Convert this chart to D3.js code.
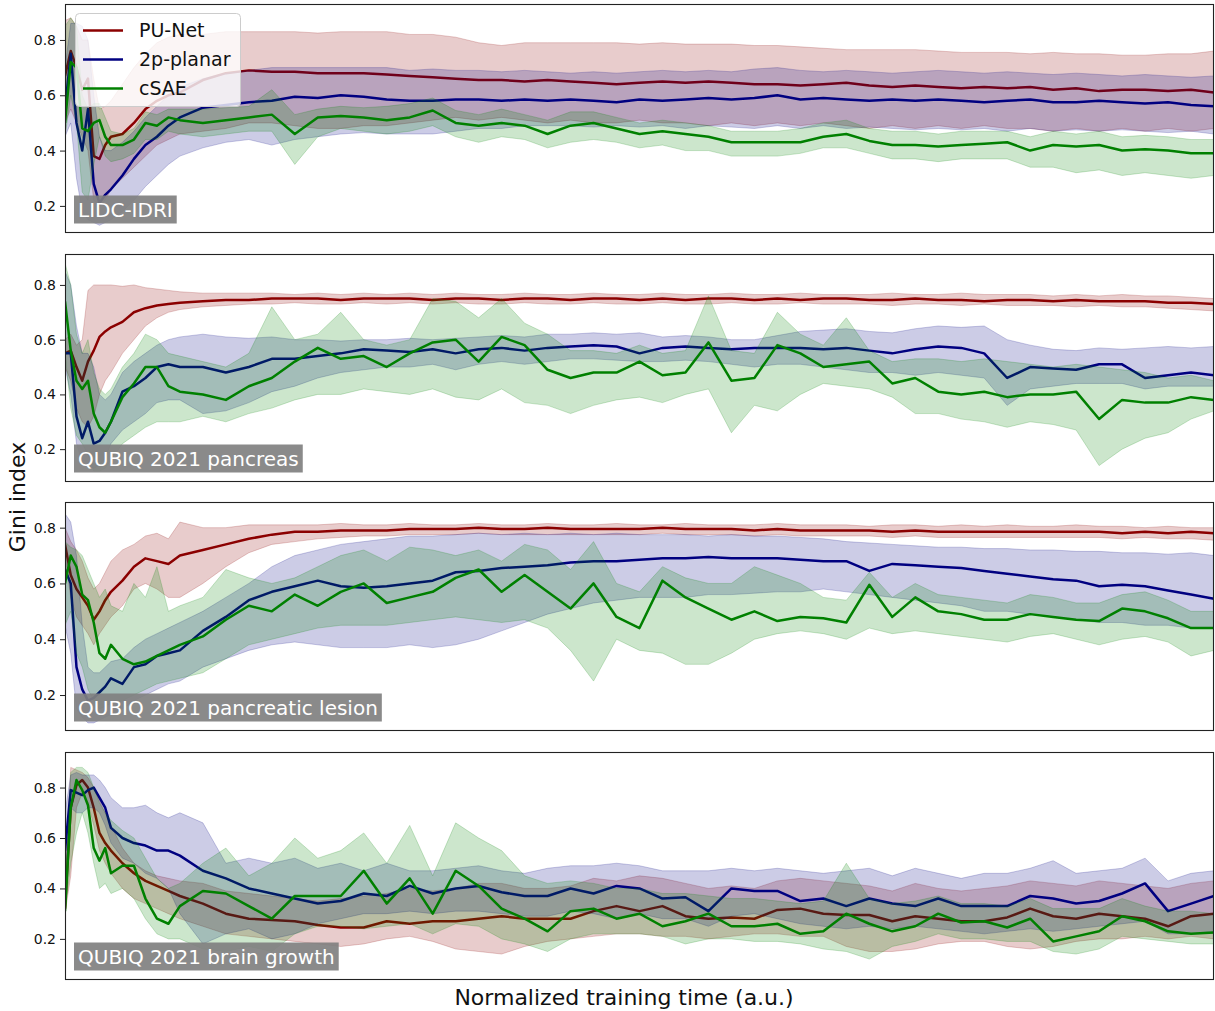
<!DOCTYPE html>
<html>
<head>
<meta charset="utf-8">
<script src="https://cdn.jsdelivr.net/npm/d3@7"></script>
<style>
  body { margin: 0; background: #fff; }
  text { font-family: "DejaVu Sans", sans-serif; }
</style>
</head>
<body>
<script>
// normalized training time (a.u.), shared by every curve
var TIME = [0,0.5,1,1.5,2,2.5,3,3.5,4,5,6,7,8,9,10,12,14,16,18,20,22,24,26,28,30,32,34,36,38,40,
            42,44,46,48,50,52,54,56,58,60,62,64,66,68,70,72,74,76,78,80,82,84,86,88,90,92,94,96,98,100];

var METHODS = ["PU-Net", "2p-planar", "cSAE"];
var DATASETS = ["LIDC-IDRI", "QUBIQ 2021 pancreas", "QUBIQ 2021 pancreatic lesion", "QUBIQ 2021 brain growth"];
var Y_TICKS = [0.2, 0.4, 0.6, 0.8];
var Y_LIMITS = [[0.102, 0.930], [0.080, 0.913], [0.071, 0.892], [0.037, 0.941]];

// ---- LIDC-IDRI
var lidcPuMean = [0.67,0.76,0.70,0.62,0.66,0.38,0.37,0.42,0.45,0.46, 0.50,0.55,0.58,0.60,0.61,0.655,0.68,0.69,0.685,0.685,
  0.68,0.68,0.68,0.675,0.67,0.665,0.66,0.655,0.655,0.65, 0.655,0.65,0.645,0.64,0.645,0.65,0.645,0.65,0.645,0.64,
  0.64,0.635,0.64,0.645,0.635,0.63,0.635,0.63,0.625,0.63, 0.625,0.63,0.62,0.625,0.615,0.62,0.62,0.615,0.62,0.61];
var lidcPuHigh = [0.87,0.88,0.85,0.80,0.80,0.66,0.55,0.56,0.58,0.64, 0.70,0.75,0.79,0.81,0.82,0.82,0.83,0.83,0.83,0.83,
  0.825,0.83,0.83,0.83,0.82,0.82,0.81,0.79,0.78,0.79, 0.79,0.79,0.79,0.79,0.785,0.79,0.785,0.785,0.785,0.78,
  0.78,0.775,0.77,0.765,0.765,0.765,0.765,0.76,0.755,0.755, 0.755,0.75,0.755,0.75,0.75,0.745,0.745,0.75,0.75,0.76];
var lidcPuLow = [0.50,0.55,0.50,0.45,0.40,0.22,0.20,0.22,0.26,0.30, 0.34,0.38,0.42,0.44,0.46,0.47,0.48,0.50,0.50,0.49,
  0.48,0.48,0.49,0.49,0.50,0.51,0.52,0.51,0.52,0.51, 0.50,0.51,0.50,0.50,0.51,0.50,0.50,0.49,0.50,0.49,
  0.50,0.49,0.50,0.49,0.48,0.49,0.48,0.49,0.48,0.49, 0.48,0.48,0.47,0.48,0.47,0.48,0.47,0.48,0.47,0.48];
var lidcPlanarMean = [0.55,0.75,0.50,0.40,0.55,0.28,0.21,0.24,0.26,0.31, 0.37,0.42,0.45,0.49,0.52,0.555,0.565,0.575,0.58,0.595,
  0.59,0.60,0.595,0.585,0.58,0.58,0.585,0.585,0.58,0.585, 0.58,0.585,0.58,0.575,0.585,0.58,0.585,0.59,0.585,0.59,
  0.60,0.585,0.59,0.585,0.58,0.585,0.58,0.585,0.58,0.575, 0.58,0.585,0.575,0.575,0.58,0.575,0.57,0.575,0.565,0.56];
var lidcPlanarHigh = [0.70,0.86,0.86,0.85,0.80,0.60,0.45,0.40,0.40,0.43, 0.47,0.52,0.56,0.60,0.63,0.66,0.68,0.69,0.70,0.70,
  0.70,0.70,0.70,0.70,0.69,0.695,0.69,0.69,0.685,0.69, 0.685,0.68,0.685,0.68,0.685,0.69,0.685,0.69,0.685,0.695,
  0.70,0.69,0.685,0.69,0.685,0.68,0.685,0.69,0.685,0.68, 0.685,0.68,0.675,0.68,0.675,0.67,0.675,0.67,0.665,0.67];
var lidcPlanarLow = [0.45,0.50,0.30,0.18,0.15,0.14,0.13,0.14,0.15,0.18, 0.22,0.27,0.31,0.35,0.38,0.41,0.43,0.44,0.42,0.44,
  0.45,0.46,0.465,0.46,0.46,0.46,0.47,0.48,0.48,0.49, 0.49,0.49,0.485,0.49,0.485,0.49,0.48,0.49,0.485,0.48,
  0.49,0.48,0.49,0.48,0.485,0.48,0.475,0.48,0.475,0.48, 0.47,0.48,0.47,0.475,0.47,0.475,0.47,0.465,0.47,0.46];
var lidcCsaeMean = [0.50,0.72,0.70,0.48,0.47,0.50,0.51,0.45,0.42,0.42, 0.44,0.50,0.49,0.52,0.51,0.50,0.51,0.52,0.53,0.46,
  0.52,0.525,0.52,0.51,0.52,0.545,0.50,0.49,0.50,0.49, 0.46,0.49,0.50,0.48,0.46,0.47,0.46,0.45,0.43,0.43,
  0.43,0.43,0.45,0.46,0.435,0.42,0.42,0.415,0.42,0.425, 0.43,0.40,0.42,0.415,0.42,0.40,0.405,0.40,0.39,0.39];
var lidcCsaeHigh = [0.85,0.88,0.85,0.60,0.55,0.57,0.57,0.52,0.47,0.46, 0.48,0.54,0.53,0.55,0.55,0.55,0.555,0.56,0.62,0.53,
  0.55,0.56,0.555,0.56,0.57,0.59,0.545,0.53,0.55,0.53, 0.51,0.54,0.54,0.52,0.50,0.51,0.50,0.49,0.47,0.47,
  0.47,0.48,0.50,0.51,0.48,0.47,0.47,0.46,0.47,0.47, 0.47,0.45,0.47,0.46,0.47,0.45,0.455,0.45,0.44,0.44];
var lidcCsaeLow = [0.45,0.60,0.50,0.25,0.22,0.35,0.45,0.38,0.36,0.37, 0.39,0.44,0.44,0.47,0.46,0.45,0.46,0.47,0.47,0.35,
  0.45,0.48,0.47,0.46,0.47,0.49,0.45,0.43,0.45,0.44, 0.41,0.43,0.44,0.43,0.41,0.42,0.40,0.40,0.38,0.38,
  0.38,0.39,0.41,0.41,0.39,0.37,0.37,0.36,0.37,0.37, 0.37,0.34,0.34,0.32,0.33,0.31,0.32,0.31,0.30,0.31];

// ---- QUBIQ 2021 pancreas
var pancPuMean = [0.55,0.56,0.50,0.45,0.52,0.56,0.61,0.63,0.645,0.665, 0.70,0.715,0.725,0.73,0.735,0.74,0.745,0.745,0.75,0.75,
  0.75,0.745,0.75,0.75,0.75,0.745,0.75,0.75,0.745,0.75, 0.75,0.745,0.75,0.75,0.745,0.75,0.745,0.75,0.75,0.745,
  0.75,0.745,0.75,0.75,0.745,0.745,0.75,0.745,0.745,0.74, 0.745,0.745,0.74,0.745,0.74,0.74,0.74,0.735,0.735,0.73];
var pancPuHigh = [0.60,0.62,0.58,0.60,0.78,0.80,0.80,0.80,0.80,0.795, 0.80,0.79,0.785,0.78,0.775,0.77,0.77,0.77,0.77,0.765,
  0.77,0.765,0.77,0.765,0.77,0.765,0.77,0.765,0.765,0.77, 0.765,0.765,0.77,0.765,0.765,0.77,0.765,0.765,0.77,0.765,
  0.765,0.77,0.765,0.765,0.765,0.77,0.765,0.765,0.77,0.765, 0.765,0.765,0.76,0.765,0.76,0.765,0.76,0.76,0.755,0.75];
var pancPuLow = [0.50,0.45,0.35,0.30,0.28,0.32,0.40,0.45,0.48,0.55, 0.60,0.65,0.68,0.70,0.71,0.72,0.725,0.73,0.73,0.735,
  0.73,0.73,0.735,0.73,0.735,0.73,0.735,0.73,0.73,0.735, 0.73,0.73,0.735,0.73,0.73,0.735,0.73,0.73,0.735,0.73,
  0.73,0.735,0.73,0.73,0.73,0.725,0.73,0.73,0.725,0.73, 0.725,0.725,0.725,0.72,0.725,0.72,0.72,0.715,0.71,0.705];
var pancPlanarMean = [0.55,0.55,0.32,0.24,0.30,0.22,0.23,0.26,0.30,0.41, 0.43,0.46,0.50,0.51,0.50,0.50,0.48,0.50,0.53,0.53,
  0.54,0.55,0.565,0.56,0.555,0.565,0.55,0.565,0.57,0.56, 0.57,0.575,0.58,0.575,0.55,0.57,0.575,0.57,0.565,0.57,
  0.57,0.57,0.565,0.57,0.56,0.55,0.565,0.575,0.57,0.55, 0.46,0.50,0.495,0.49,0.51,0.51,0.46,0.47,0.48,0.47];
var pancPlanarHigh = [0.85,0.80,0.65,0.55,0.55,0.50,0.40,0.38,0.40,0.48, 0.52,0.55,0.58,0.60,0.61,0.62,0.61,0.605,0.61,0.60,
  0.60,0.595,0.60,0.60,0.605,0.60,0.605,0.61,0.615,0.61, 0.62,0.62,0.625,0.62,0.625,0.61,0.615,0.61,0.60,0.60,
  0.615,0.63,0.635,0.64,0.63,0.625,0.64,0.65,0.645,0.65, 0.60,0.58,0.565,0.56,0.57,0.565,0.57,0.575,0.57,0.575];
var pancPlanarLow = [0.50,0.40,0.22,0.15,0.14,0.13,0.14,0.17,0.22,0.27, 0.30,0.33,0.37,0.38,0.38,0.33,0.34,0.37,0.41,0.43,
  0.46,0.48,0.49,0.50,0.50,0.51,0.49,0.51,0.52,0.51, 0.52,0.53,0.53,0.525,0.52,0.52,0.525,0.52,0.51,0.50,
  0.51,0.51,0.50,0.49,0.48,0.48,0.47,0.48,0.47,0.46, 0.36,0.42,0.43,0.44,0.44,0.44,0.42,0.43,0.43,0.43];
var pancCsaeMean = [0.74,0.56,0.45,0.42,0.45,0.33,0.28,0.26,0.30,0.39, 0.44,0.50,0.50,0.43,0.41,0.40,0.38,0.43,0.46,0.52,
  0.57,0.53,0.54,0.50,0.55,0.59,0.60,0.52,0.61,0.58, 0.49,0.46,0.48,0.48,0.52,0.47,0.48,0.59,0.45,0.46,
  0.58,0.55,0.50,0.51,0.52,0.44,0.46,0.41,0.40,0.41, 0.39,0.40,0.40,0.41,0.31,0.38,0.37,0.37,0.39,0.38];
var pancCsaeHigh = [0.88,0.80,0.62,0.55,0.60,0.48,0.42,0.40,0.42,0.50, 0.55,0.62,0.60,0.55,0.54,0.52,0.50,0.55,0.72,0.60,
  0.62,0.70,0.60,0.58,0.60,0.75,0.74,0.68,0.75,0.66, 0.62,0.56,0.56,0.55,0.58,0.55,0.56,0.76,0.56,0.55,
  0.70,0.62,0.58,0.68,0.56,0.52,0.53,0.53,0.52,0.53, 0.52,0.51,0.50,0.51,0.50,0.49,0.48,0.46,0.47,0.45];
var pancCsaeLow = [0.55,0.35,0.25,0.22,0.18,0.12,0.12,0.13,0.16,0.22, 0.25,0.28,0.30,0.30,0.30,0.32,0.30,0.33,0.35,0.38,
  0.40,0.40,0.42,0.41,0.40,0.42,0.39,0.38,0.42,0.37, 0.36,0.33,0.36,0.38,0.39,0.37,0.40,0.42,0.26,0.36,
  0.34,0.40,0.44,0.43,0.42,0.39,0.33,0.33,0.31,0.30, 0.28,0.30,0.29,0.27,0.14,0.20,0.24,0.26,0.31,0.34];

// ---- QUBIQ 2021 pancreatic lesion
var lesPuMean = [0.74,0.63,0.58,0.55,0.52,0.47,0.50,0.54,0.57,0.61, 0.66,0.69,0.68,0.67,0.70,0.72,0.74,0.76,0.775,0.785,
  0.785,0.79,0.79,0.79,0.795,0.795,0.795,0.80,0.795,0.795, 0.80,0.795,0.795,0.795,0.795,0.80,0.795,0.795,0.795,0.79,
  0.795,0.79,0.79,0.79,0.79,0.785,0.79,0.785,0.785,0.785, 0.785,0.785,0.785,0.785,0.785,0.78,0.785,0.78,0.785,0.78];
var lesPuHigh = [0.80,0.75,0.72,0.68,0.62,0.58,0.60,0.64,0.68,0.72, 0.74,0.77,0.78,0.76,0.82,0.80,0.80,0.81,0.81,0.81,
  0.81,0.815,0.81,0.81,0.815,0.81,0.81,0.815,0.81,0.81, 0.815,0.81,0.81,0.815,0.81,0.81,0.815,0.81,0.81,0.81,
  0.815,0.81,0.81,0.81,0.805,0.81,0.81,0.805,0.81,0.805, 0.81,0.805,0.805,0.81,0.805,0.805,0.80,0.805,0.80,0.80];
var lesPuLow = [0.70,0.55,0.48,0.45,0.42,0.38,0.42,0.45,0.48,0.52, 0.58,0.60,0.58,0.55,0.55,0.60,0.66,0.71,0.74,0.75,
  0.76,0.765,0.77,0.77,0.775,0.775,0.775,0.78,0.775,0.775, 0.775,0.775,0.775,0.775,0.775,0.78,0.775,0.775,0.775,0.77,
  0.775,0.77,0.77,0.77,0.77,0.765,0.77,0.765,0.765,0.765, 0.765,0.765,0.765,0.765,0.765,0.76,0.765,0.76,0.76,0.755];
var lesPlanarMean = [0.65,0.60,0.30,0.22,0.18,0.19,0.21,0.23,0.26,0.24, 0.30,0.31,0.34,0.35,0.36,0.43,0.48,0.54,0.57,0.59,
  0.61,0.59,0.585,0.59,0.60,0.61,0.64,0.645,0.655,0.66, 0.665,0.675,0.68,0.68,0.685,0.69,0.69,0.695,0.69,0.69,
  0.69,0.685,0.68,0.68,0.645,0.67,0.665,0.66,0.655,0.645, 0.635,0.625,0.615,0.61,0.59,0.595,0.59,0.575,0.56,0.545];
var lesPlanarHigh = [0.85,0.82,0.70,0.45,0.30,0.28,0.28,0.30,0.32,0.33, 0.37,0.40,0.42,0.44,0.46,0.50,0.55,0.60,0.66,0.70,
  0.72,0.74,0.75,0.76,0.77,0.77,0.775,0.78,0.775,0.78, 0.775,0.78,0.775,0.78,0.775,0.775,0.775,0.77,0.775,0.77,
  0.77,0.765,0.76,0.75,0.745,0.74,0.735,0.73,0.73,0.725, 0.725,0.72,0.72,0.715,0.715,0.71,0.71,0.705,0.71,0.70];
var lesPlanarLow = [0.45,0.35,0.15,0.12,0.10,0.10,0.11,0.12,0.13,0.15, 0.18,0.20,0.22,0.24,0.25,0.30,0.33,0.36,0.38,0.39,
  0.38,0.37,0.37,0.37,0.38,0.37,0.38,0.40,0.43,0.46, 0.49,0.51,0.53,0.54,0.55,0.55,0.55,0.56,0.56,0.565,
  0.57,0.57,0.58,0.57,0.56,0.55,0.54,0.53,0.52,0.50, 0.50,0.49,0.48,0.47,0.46,0.46,0.45,0.45,0.44,0.44];
var lesCsaeMean = [0.60,0.70,0.66,0.56,0.54,0.46,0.35,0.33,0.38,0.33, 0.31,0.32,0.34,0.36,0.38,0.41,0.47,0.52,0.50,0.56,
  0.52,0.57,0.60,0.53,0.55,0.57,0.62,0.65,0.57,0.63, 0.57,0.51,0.60,0.48,0.44,0.61,0.55,0.51,0.47,0.50,
  0.465,0.48,0.475,0.46,0.595,0.48,0.55,0.50,0.49,0.47, 0.47,0.49,0.48,0.47,0.465,0.51,0.50,0.475,0.44,0.44];
var lesCsaeHigh = [0.75,0.73,0.72,0.70,0.65,0.60,0.55,0.58,0.52,0.50, 0.60,0.55,0.66,0.50,0.52,0.55,0.65,0.62,0.60,0.62,
  0.66,0.70,0.72,0.68,0.73,0.72,0.70,0.72,0.68,0.74, 0.72,0.65,0.75,0.60,0.57,0.66,0.62,0.60,0.60,0.66,
  0.63,0.60,0.55,0.54,0.64,0.55,0.60,0.56,0.55,0.54, 0.53,0.56,0.55,0.53,0.53,0.56,0.57,0.54,0.50,0.50];
var lesCsaeLow = [0.45,0.50,0.35,0.30,0.22,0.18,0.15,0.16,0.17,0.18, 0.20,0.22,0.24,0.25,0.26,0.28,0.33,0.38,0.40,0.42,
  0.44,0.45,0.45,0.45,0.46,0.47,0.48,0.47,0.46,0.47, 0.44,0.36,0.25,0.40,0.36,0.35,0.31,0.31,0.35,0.40,
  0.42,0.43,0.42,0.40,0.44,0.42,0.43,0.42,0.41,0.40, 0.39,0.41,0.42,0.40,0.38,0.40,0.41,0.39,0.34,0.36];

// ---- QUBIQ 2021 brain growth
var brainPuMean = [0.32,0.72,0.81,0.83,0.80,0.72,0.62,0.58,0.55,0.50, 0.46,0.43,0.41,0.39,0.37,0.34,0.30,0.28,0.275,0.27,
  0.255,0.245,0.245,0.27,0.26,0.27,0.27,0.28,0.29,0.28, 0.28,0.28,0.31,0.33,0.31,0.33,0.29,0.28,0.285,0.28,
  0.315,0.32,0.30,0.295,0.295,0.27,0.29,0.28,0.27,0.27, 0.285,0.32,0.29,0.28,0.30,0.29,0.28,0.25,0.29,0.30];
var brainPuHigh = [0.45,0.88,0.87,0.86,0.84,0.80,0.75,0.70,0.65,0.56, 0.50,0.47,0.45,0.44,0.43,0.42,0.39,0.38,0.37,0.36,
  0.35,0.36,0.37,0.38,0.40,0.39,0.40,0.42,0.42,0.40, 0.40,0.41,0.44,0.43,0.45,0.44,0.42,0.40,0.41,0.40,
  0.43,0.44,0.43,0.42,0.41,0.39,0.42,0.40,0.39,0.40, 0.41,0.43,0.42,0.41,0.43,0.42,0.41,0.40,0.42,0.43];
var brainPuLow = [0.30,0.45,0.72,0.78,0.74,0.65,0.55,0.50,0.46,0.40, 0.36,0.34,0.32,0.30,0.28,0.25,0.22,0.21,0.20,0.19,
  0.18,0.17,0.18,0.20,0.21,0.19,0.16,0.15,0.14,0.17, 0.19,0.20,0.21,0.22,0.22,0.21,0.21,0.20,0.21,0.22,
  0.22,0.21,0.21,0.17,0.15,0.15,0.16,0.18,0.19,0.19, 0.17,0.16,0.17,0.19,0.20,0.20,0.21,0.20,0.21,0.20];
var brainPlanarMean = [0.55,0.79,0.78,0.77,0.79,0.80,0.76,0.72,0.64,0.60, 0.58,0.57,0.55,0.55,0.53,0.47,0.44,0.40,0.38,0.36,
  0.34,0.35,0.38,0.37,0.41,0.38,0.40,0.41,0.385,0.37, 0.37,0.40,0.38,0.41,0.40,0.36,0.365,0.31,0.40,0.39,
  0.39,0.35,0.36,0.33,0.36,0.34,0.33,0.36,0.33,0.33, 0.33,0.37,0.36,0.34,0.35,0.38,0.42,0.31,0.34,0.37];
var brainPlanarHigh = [0.70,0.85,0.86,0.85,0.85,0.85,0.83,0.80,0.76,0.72, 0.72,0.73,0.70,0.68,0.70,0.66,0.50,0.52,0.50,0.52,
  0.48,0.50,0.47,0.50,0.47,0.47,0.48,0.49,0.47,0.46, 0.48,0.49,0.49,0.50,0.49,0.47,0.47,0.47,0.48,0.47,
  0.48,0.47,0.46,0.47,0.48,0.45,0.48,0.46,0.44,0.46, 0.46,0.48,0.51,0.46,0.47,0.48,0.52,0.43,0.46,0.47];
var brainPlanarLow = [0.45,0.72,0.70,0.70,0.72,0.72,0.70,0.65,0.58,0.52, 0.50,0.46,0.44,0.40,0.30,0.18,0.22,0.24,0.20,0.22,
  0.26,0.28,0.30,0.30,0.31,0.30,0.31,0.31,0.30,0.29, 0.29,0.31,0.30,0.28,0.30,0.28,0.28,0.25,0.29,0.30,
  0.28,0.26,0.25,0.24,0.25,0.24,0.25,0.24,0.23,0.22, 0.23,0.24,0.23,0.24,0.25,0.26,0.27,0.22,0.22,0.23];
var brainCsaeMean = [0.31,0.72,0.83,0.79,0.73,0.56,0.51,0.56,0.46,0.49, 0.49,0.36,0.28,0.26,0.33,0.39,0.38,0.33,0.28,0.37,
  0.37,0.37,0.47,0.34,0.44,0.30,0.47,0.41,0.32,0.28, 0.23,0.31,0.32,0.28,0.30,0.25,0.27,0.30,0.25,0.25,
  0.26,0.22,0.23,0.30,0.26,0.23,0.25,0.30,0.265,0.27, 0.245,0.28,0.19,0.21,0.23,0.29,0.27,0.23,0.22,0.225];
var brainCsaeHigh = [0.40,0.86,0.88,0.88,0.86,0.80,0.74,0.70,0.67,0.63, 0.60,0.52,0.44,0.40,0.42,0.50,0.56,0.45,0.50,0.60,
  0.52,0.55,0.62,0.50,0.65,0.45,0.66,0.60,0.55,0.45, 0.42,0.43,0.42,0.40,0.40,0.38,0.38,0.37,0.36,0.36,
  0.35,0.34,0.35,0.50,0.36,0.34,0.35,0.37,0.34,0.34, 0.33,0.36,0.32,0.32,0.32,0.36,0.33,0.31,0.31,0.30];
var brainCsaeLow = [0.30,0.50,0.62,0.70,0.62,0.50,0.40,0.42,0.38,0.40, 0.36,0.28,0.22,0.20,0.20,0.16,0.15,0.17,0.15,0.22,
  0.25,0.25,0.24,0.25,0.26,0.22,0.26,0.25,0.20,0.18, 0.15,0.20,0.22,0.22,0.22,0.21,0.18,0.20,0.20,0.19,
  0.19,0.18,0.16,0.15,0.12,0.17,0.19,0.22,0.20,0.20, 0.19,0.19,0.15,0.14,0.16,0.21,0.20,0.19,0.18,0.18];

// build the per-panel table from the arrays above
var COLORS = ["#8b0000", "#000080", "#008000"];
var panels = [
  { name: DATASETS[0], ylim: Y_LIMITS[0], series: [
      [lidcPuMean, lidcPuLow, lidcPuHigh], [lidcPlanarMean, lidcPlanarLow, lidcPlanarHigh], [lidcCsaeMean, lidcCsaeLow, lidcCsaeHigh]] },
  { name: DATASETS[1], ylim: Y_LIMITS[1], series: [
      [pancPuMean, pancPuLow, pancPuHigh], [pancPlanarMean, pancPlanarLow, pancPlanarHigh], [pancCsaeMean, pancCsaeLow, pancCsaeHigh]] },
  { name: DATASETS[2], ylim: Y_LIMITS[2], series: [
      [lesPuMean, lesPuLow, lesPuHigh], [lesPlanarMean, lesPlanarLow, lesPlanarHigh], [lesCsaeMean, lesCsaeLow, lesCsaeHigh]] },
  { name: DATASETS[3], ylim: Y_LIMITS[3], series: [
      [brainPuMean, brainPuLow, brainPuHigh], [brainPlanarMean, brainPlanarLow, brainPlanarHigh], [brainCsaeMean, brainCsaeLow, brainCsaeHigh]] }
];

var width = 1215, height = 1011;
var left = 65, right = 1214;
var panelRows = [[4, 233], [254, 482], [502, 731], [752, 980]];

var svg = d3.select("body").append("svg")
    .attr("width", width)
    .attr("height", height)
    .style("background", "#fff");

var x = d3.scaleLinear().domain([0, 100]).range([left, right]);

function rows(s) {
  var out = [];
  var n = Math.min(TIME.length, s[0].length, s[1].length, s[2].length);
  for (var i = 0; i < n; i++) out.push({ t: TIME[i], m: s[0][i], lo: s[1][i], hi: s[2][i] });
  return out;
}

panels.forEach(function(p, pi) {
  var top = panelRows[pi][0], bottom = panelRows[pi][1];
  var y = d3.scaleLinear().domain(p.ylim).range([bottom, top]);

  svg.append("clipPath").attr("id", "clip" + pi)
    .append("rect").attr("x", left).attr("y", top).attr("width", right - left).attr("height", bottom - top);

  var g = svg.append("g").attr("clip-path", "url(#clip" + pi + ")");

  var area = d3.area().x(function(d) { return x(d.t); })
      .y0(function(d) { return y(d.lo); }).y1(function(d) { return y(d.hi); });
  var line = d3.line().x(function(d) { return x(d.t); }).y(function(d) { return y(d.m); });

  p.series.forEach(function(s, si) {
    var data = rows(s);
    g.append("path").datum(data)
      .attr("d", area)
      .attr("fill", COLORS[si]).attr("fill-opacity", 0.2)
      .attr("stroke", COLORS[si]).attr("stroke-opacity", 0.2).attr("stroke-width", 1);
    g.append("path").datum(data)
      .attr("d", line)
      .attr("fill", "none").attr("stroke", COLORS[si])
      .attr("stroke-width", 2.5).attr("stroke-linejoin", "round");
  });

  // y axis
  var ax = svg.append("g").attr("transform", "translate(" + left + ",0)")
    .call(d3.axisLeft(y).tickValues(Y_TICKS).tickFormat(d3.format(".1f")).tickSize(5).tickPadding(4));
  ax.select(".domain").remove();
  ax.selectAll("line").attr("stroke", "#222").attr("stroke-width", 1);
  ax.selectAll("text").attr("font-size", 14).attr("fill", "#111")
    .attr("font-family", "DejaVu Sans, sans-serif");

  // frame
  svg.append("rect").attr("x", left + 0.5).attr("y", top + 0.5)
    .attr("width", right - left - 1).attr("height", bottom - top - 1)
    .attr("fill", "none").attr("stroke", "#222").attr("stroke-width", 1.1);

  // dataset tag
  var tag = svg.append("g");
  var tagText = tag.append("text").attr("x", 78).attr("y", bottom - 16)
    .attr("font-size", 20).attr("fill", "#fff").text(p.name);
  var bb = tagText.node().getBBox();
  tag.insert("rect", "text")
    .attr("x", 74).attr("y", bottom - 37.5)
    .attr("width", bb.width + 8).attr("height", 28)
    .attr("fill", "#808080").attr("fill-opacity", 0.92);
});

// legend (top panel)
var legend = svg.append("g");
legend.append("rect").attr("x", 75.5).attr("y", 13.5).attr("width", 165).attr("height", 93).attr("rx", 4)
  .attr("fill", "#fff").attr("fill-opacity", 0.8).attr("stroke", "#ccc").attr("stroke-width", 1);
METHODS.forEach(function(name, i) {
  var ly = 30.5 + i * 29;
  legend.append("line").attr("x1", 83).attr("x2", 123).attr("y1", ly).attr("y2", ly)
    .attr("stroke", COLORS[i]).attr("stroke-width", 2.5);
  legend.append("text").attr("x", 139).attr("y", ly).attr("dy", "0.35em")
    .attr("font-size", 19).attr("fill", "#111").text(name);
});

// axis titles
svg.append("text").attr("transform", "translate(25,497) rotate(-90)")
  .attr("text-anchor", "middle").attr("font-size", 22).attr("fill", "#111").text("Gini index");
svg.append("text").attr("x", 624).attr("y", 1005)
  .attr("text-anchor", "middle").attr("font-size", 22).attr("fill", "#111").text("Normalized training time (a.u.)");
</script>
</body>
</html>
